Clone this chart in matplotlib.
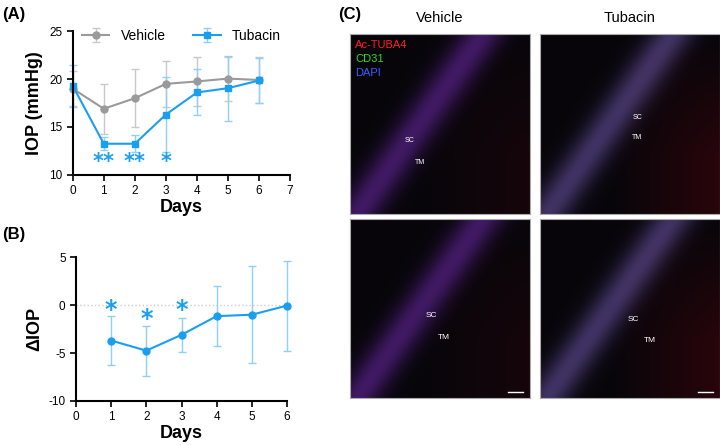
import numpy as np
import matplotlib
matplotlib.use("Agg")
import matplotlib.pyplot as plt

plt.rcParams['font.family'] = ['Liberation Sans', 'DejaVu Sans']
plt.rcParams['axes.unicode_minus'] = False

days = [0, 1, 2, 3, 4, 5, 6]
veh_mean = [19.0, 16.9, 18.0, 19.5, 19.75, 20.05, 19.9]
veh_err = [1.8, 2.6, 3.0, 2.4, 2.6, 2.3, 2.4]
tub_mean = [19.3, 13.25, 13.25, 16.3, 18.6, 19.05, 19.85]
tub_err = [2.2, 0.7, 0.9, 3.9, 2.4, 3.4, 2.3]
sigA_days = [1, 2, 3]
sigA_labels = ["**", "**", "*"]

ddays = [1, 2, 3, 4, 5, 6]
d_mean = [-3.7, -4.75, -3.1, -1.15, -1.0, -0.05]
d_err = [2.6, 2.6, 1.8, 3.1, 5.05, 4.7]
sigB_days = [1, 2, 3]
sigB_y = [0.0, -0.9, 0.0]

GRAY = "#9a9a9a"
BLUE = "#1a9ff0"

fig = plt.figure(figsize=(7.2, 4.45), dpi=100)

def style(ax):
    for s in ["top", "right"]:
        ax.spines[s].set_visible(False)
    for s in ["left", "bottom"]:
        ax.spines[s].set_linewidth(1.5)
    ax.tick_params(width=1.2, length=4, labelsize=8.5)

axA = fig.add_axes([0.101, 0.607, 0.302, 0.323])
for m, e, c, ec, mk, lab in [(veh_mean, veh_err, GRAY, "#c8c8c8", "o", "Vehicle"),
                             (tub_mean, tub_err, BLUE, "#8fd0f8", "s", "Tubacin")]:
    cont = axA.errorbar(days, m, yerr=e, color=c, marker=mk, ms=5, lw=1.5,
                        capsize=3, elinewidth=1, ecolor=ec, label=lab)
    for a in cont.get_children():
        a.set_clip_on(False)
for d, s in zip(sigA_days, sigA_labels):
    axA.text(d, 10.3, s, color=BLUE, ha="center", va="bottom", fontsize=15,
             fontweight="bold", family="DejaVu Sans")
axA.set_xlim(0, 7); axA.set_ylim(10, 25)
axA.set_xticks(range(8)); axA.set_yticks([10, 15, 20, 25])
axA.set_xlabel("Days", fontsize=13, fontweight="bold", labelpad=1)
axA.set_ylabel("IOP (mmHg)", fontsize=13, fontweight="bold")
axA.legend(loc="upper center", ncol=2, frameon=False, fontsize=10, bbox_to_anchor=(0.5, 1.1),
           handlelength=2, columnspacing=2)
style(axA)
fig.text(0.003, 0.985, "(A)", fontsize=12, fontweight="bold", va="top")

axB = fig.add_axes([0.1056, 0.099, 0.293, 0.323])
axB.axhline(0, color="#cccccc", ls=":", lw=1)
cont = axB.errorbar(ddays, d_mean, yerr=d_err, color=BLUE, marker="o", ms=5, lw=1.5,
                    capsize=3, elinewidth=1, ecolor="#8fd0f8")
for a in cont.get_children():
    a.set_clip_on(False)
for d, y in zip(sigB_days, sigB_y):
    axB.text(d, y - 1.8, "*", color=BLUE, ha="center", va="bottom", fontsize=17,
             fontweight="bold", family="DejaVu Sans")
axB.set_xlim(0, 6); axB.set_ylim(-10, 5)
axB.set_xticks(range(7)); axB.set_yticks([-10, -5, 0, 5])
axB.set_xlabel("Days", fontsize=13, fontweight="bold", labelpad=1)
axB.set_ylabel("ΔIOP", fontsize=13, fontweight="bold")
style(axB)
fig.text(0.003, 0.49, "(B)", fontsize=12, fontweight="bold", va="top")

fig.text(0.47, 0.985, "(C)", fontsize=12, fontweight="bold", va="top")
fig.text(0.611, 0.96, "Vehicle", fontsize=10.5, ha="center", va="center")
fig.text(0.875, 0.96, "Tubacin", fontsize=10.5, ha="center", va="center")

yy, xx = np.mgrid[0:100, 0:100] / 100.0
def tissue(kind):
    band = np.exp(-((xx - (0.9 - yy) * 0.7 - 0.1) ** 2) / 0.015)
    right = np.clip((xx - 0.4) * 1.2, 0, 1) * np.clip(yy * 1.5, 0, 1)
    img = np.zeros((100, 100, 3))
    img[..., 0] = 0.03 + 0.22 * band + (0.08 + 0.1 * kind) * right
    img[..., 1] = 0.02 + (0.08 + 0.1 * kind) * band
    img[..., 2] = 0.04 + 0.35 * band
    return np.clip(img, 0, 1)

rects = [([0.486, 0.519, 0.25, 0.404], 0, (0.33, 0.40), (0.39, 0.28)),
         ([0.750, 0.519, 0.25, 0.404], 1, (0.54, 0.53), (0.54, 0.42)),
         ([0.486, 0.106, 0.25, 0.402], 0, (0.45, 0.45), (0.52, 0.33)),
         ([0.750, 0.106, 0.25, 0.402], 1, (0.52, 0.43), (0.61, 0.31))]
for i, (r, kind, sc, tm) in enumerate(rects):
    ax = fig.add_axes(r)
    ax.imshow(tissue(kind), extent=[0, 1, 0, 1], aspect="auto")
    ax.set_xticks([]); ax.set_yticks([])
    for s in ax.spines.values():
        s.set_color("#aaaaaa"); s.set_linewidth(0.8)
    fs = 5 if i < 2 else 6
    ax.text(*sc, "SC", color="white", fontsize=fs, ha="center")
    ax.text(*tm, "TM", color="white", fontsize=fs, ha="center")
    if i == 0:
        ax.text(0.03, 0.97, "Ac-TUBA4", color="#ff2020", fontsize=8, va="top")
        ax.text(0.03, 0.89, "CD31", color="#20e020", fontsize=8, va="top")
        ax.text(0.03, 0.81, "DAPI", color="#3060ff", fontsize=8, va="top")
    if i >= 2:
        ax.plot([0.88, 0.96], [0.03, 0.03], color="white", lw=1)

fig.savefig("out.png", dpi=100)
